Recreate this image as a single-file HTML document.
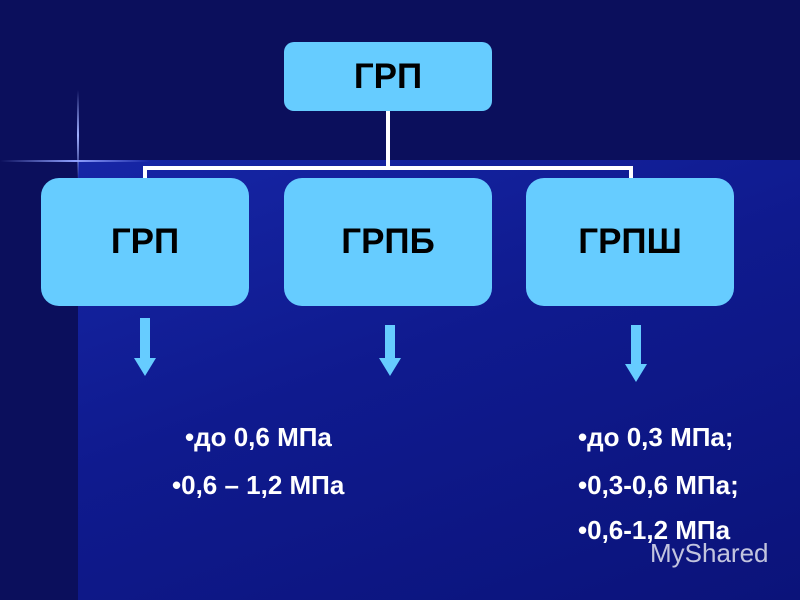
<!DOCTYPE html>
<html><head><meta charset="utf-8"><style>
body{margin:0;width:800px;height:600px;overflow:hidden;position:relative;background:#0b0f5c;font-family:"Liberation Sans",sans-serif}
.a{position:absolute}
.bg2{left:78px;top:160px;width:722px;height:440px;background:linear-gradient(160deg,#1626a6 0%,#0f1a8e 45%,#0b137a 100%)}
.box{position:absolute;background:#66ccff;border-radius:18px;display:flex;align-items:center;justify-content:center;font-weight:bold;font-size:35px;color:#000}
.t{position:absolute;color:#fff;font-weight:bold;font-size:26px;line-height:26px;white-space:nowrap}
</style></head><body>
<div class="a bg2"></div>
<div class="a" style="left:0;top:160px;width:150px;height:2px;background:linear-gradient(90deg,rgba(120,140,255,0),#8fa0ff,rgba(120,140,255,0))"></div>
<div class="a" style="left:77px;top:90px;width:2px;height:90px;background:linear-gradient(180deg,rgba(120,140,255,0),#a0b0ff,rgba(120,140,255,0))"></div>
<div class="a" style="left:386px;top:110px;width:4px;height:60px;background:#fff"></div>
<div class="a" style="left:143px;top:166px;width:490px;height:4px;background:#fff"></div>
<div class="a" style="left:143px;top:166px;width:4px;height:14px;background:#fff"></div>
<div class="a" style="left:629px;top:166px;width:4px;height:14px;background:#fff"></div>
<div class="box" style="left:284px;top:42px;width:208px;height:69px;border-radius:10px">ГРП</div>
<div class="box" style="left:41px;top:178px;width:208px;height:128px">ГРП</div>
<div class="box" style="left:284px;top:178px;width:208px;height:128px">ГРПБ</div>
<div class="box" style="left:526px;top:178px;width:208px;height:128px">ГРПШ</div>
<svg class="a" style="left:0;top:0" width="800" height="600">
<g fill="#66ccff"><path d="M140 318h10v40h6l-11 18-11-18h6z"/><path d="M385 325h10v33h6l-11 18-11-18h6z"/><path d="M631 325h10v39h6l-11 18-11-18h6z"/></g>
</svg>
<div class="t" style="left:185px;top:424px">•до 0,6 МПа</div>
<div class="t" style="left:172px;top:472px">•0,6 – 1,2 МПа</div>
<div class="t" style="left:578px;top:424px">•до 0,3 МПа;</div>
<div class="t" style="left:578px;top:472px">•0,3-0,6 МПа;</div>
<div class="t" style="left:578px;top:517px">•0,6-1,2 МПа</div>
<div class="a" style="left:650px;top:538px;color:rgba(255,255,255,0.75);font-size:26px">MyShared</div>
</body></html>
